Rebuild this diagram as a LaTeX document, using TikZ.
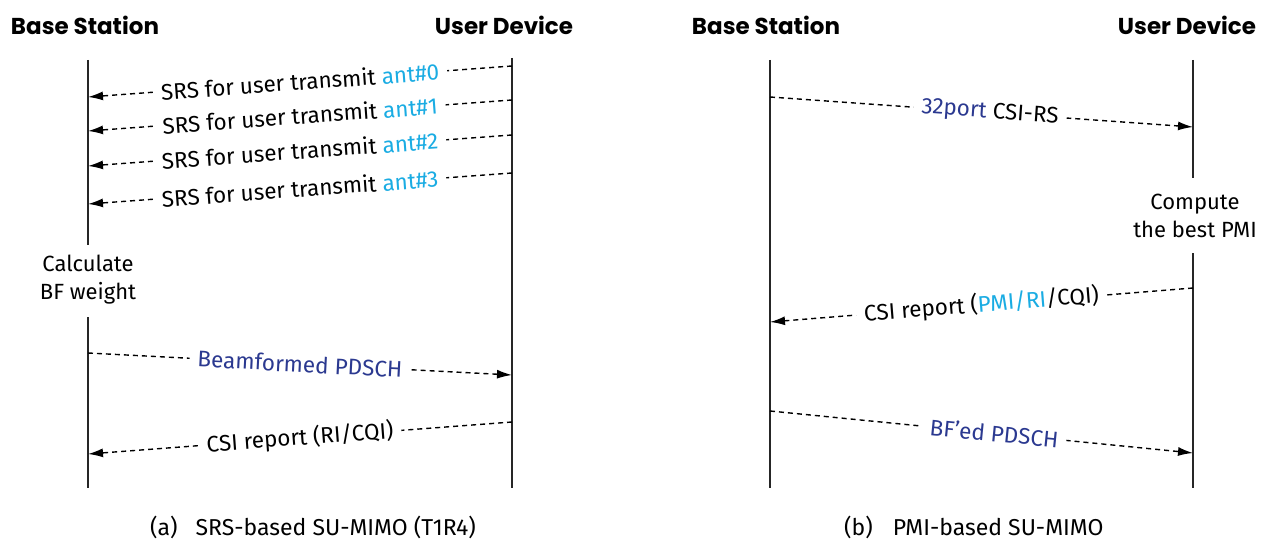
\documentclass[tikz,border=0pt]{standalone}
\usepackage{fontspec}
\setmainfont{Fira Sans}
\newfontfamily\headfont{Poppins}
\usetikzlibrary{arrows.meta}
\definecolor{antcyan}{HTML}{1AACE3}
\definecolor{navyblue}{HTML}{2B3990}
\begin{document}
\begin{tikzpicture}[x=1pt,y=-1pt,
  lifeline/.style={line width=2.8pt,black!85},
  msg/.style={line width=1.4pt,dash pattern=on 5pt off 4pt,-{Latex[length=15pt,width=9pt]}},
  lbl/.style={fill=white,inner xsep=8pt,inner ysep=0pt,font=\fontsize{22.5}{24}\selectfont,sloped},
  head/.style={font=\headfont\bfseries\fontsize{23}{26}\selectfont,inner sep=0pt},
  note/.style={font=\fontsize{22}{28}\selectfont,align=center,inner sep=0pt},
  captext/.style={font=\fontsize{23}{26}\selectfont,anchor=west,inner sep=0pt}]
\useasboundingbox (0,0) rectangle (1268,540);
% headings
\node[head] (h1) at (85,25) {Base Station};
\node[head] (h2) at (504,25) {User Device};
\node[head] (h3) at (766,25) {Base Station};
\node[head] (h4) at (1187,25) {User Device};
% left panel lifelines
\coordinate (bsAtop) at (88,60);
\coordinate (bsAmid1) at (88,245);
\coordinate (bsAmid2) at (88,317);
\coordinate (bsAbot) at (88,488);
\coordinate (udAtop) at (512,58);
\coordinate (udAbot) at (512,488);
\draw[lifeline] (bsAtop) -- (bsAmid1);
\draw[lifeline] (bsAmid2) -- (bsAbot);
\draw[lifeline] (udAtop) -- (udAbot);
\node[note] (calc) at (88,280) {Calculate\\BF weight};
% SRS messages
\foreach \i/\yr in {0/66,1/100,2/135,3/173}{
  \coordinate (s\i r) at (512,\yr);
  \coordinate (s\i l) at (88,\yr+31);
  \draw[msg] (s\i r) -- node[lbl] {SRS for user transmit \textcolor{antcyan}{ant\#\i}} (s\i l);
}
\coordinate (pA1) at (88,353);
\coordinate (pA2) at (512,375);
\draw[msg] (pA1) -- node[lbl,text=navyblue] {Beamformed PDSCH} (pA2);
\coordinate (cA1) at (512,422);
\coordinate (cA2) at (88,454);
\draw[msg] (cA1) -- node[lbl] {CSI report (RI/CQI)} (cA2);
% right panel lifelines
\coordinate (bsBtop) at (770,60);
\coordinate (bsBbot) at (770,488);
\coordinate (udBtop) at (1193,60);
\coordinate (udBmid1) at (1193,178);
\coordinate (udBmid2) at (1193,253);
\coordinate (udBbot) at (1193,488);
\draw[lifeline] (bsBtop) -- (bsBbot);
\draw[lifeline] (udBtop) -- (udBmid1);
\draw[lifeline] (udBmid2) -- (udBbot);
\node[note] (comp) at (1195,216) {Compute\\the best PMI};
\coordinate (r1a) at (770,97);
\coordinate (r1b) at (1193,127);
\draw[msg] (r1a) -- node[lbl,pos=0.52] {\textcolor{navyblue}{32port} CSI-RS} (r1b);
\coordinate (r2a) at (1193,288);
\coordinate (r2b) at (770,322);
\draw[msg] (r2a) -- node[lbl] {CSI report (\textcolor{antcyan}{PMI/RI}/CQI)} (r2b);
\coordinate (r3a) at (770,411);
\coordinate (r3b) at (1193,453);
\draw[msg] (r3a) -- node[lbl,text=navyblue,pos=0.53] {BF’ed PDSCH} (r3b);
% captions
\node[captext] (capA) at (150,527) {(a)\hspace{18pt}SRS-based SU-MIMO (T1R4)};
\node[captext] (capB) at (844,527) {(b)\hspace{20pt}PMI-based SU-MIMO};
\end{tikzpicture}
\end{document}
